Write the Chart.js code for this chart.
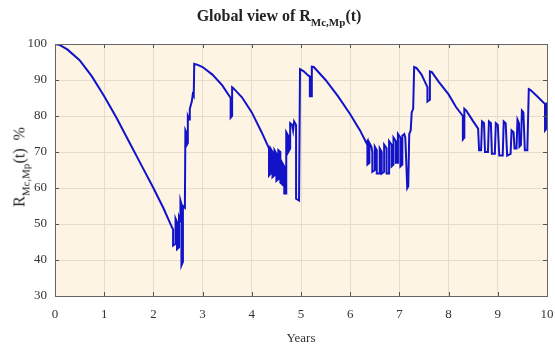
<!DOCTYPE html>
<html>
<head>
<meta charset="utf-8">
<script src="https://cdn.jsdelivr.net/npm/chart.js@4.4.0/dist/chart.umd.min.js"></script>
<style>
  html, body { margin: 0; padding: 0; background: #ffffff; }
  #wrap { position: relative; width: 555px; height: 347px; overflow: hidden; }
  #c { position: absolute; left: 0; top: 0; }
  #title { position: absolute; top: 7px; left: 279px; transform: translateX(-50%);
    font-family: "Liberation Serif", "DejaVu Serif", serif; font-weight: bold; font-size: 16px;
    color: #222; white-space: nowrap; }
  #title sub { font-size: 11px; vertical-align: -5px; }
  #ylab sub { font-size: 11px; vertical-align: -5px; }
  #ylab { position: absolute; left: 21px; top: 167px; transform: translate(-50%, -50%) rotate(-90deg);
    font-family: "Liberation Serif", "DejaVu Serif", serif; font-size: 16px; color: #222; white-space: nowrap; }
</style>
</head>
<body>
<div id="wrap">
  <canvas id="c" width="555" height="347"></canvas>
  <div id="title">Global view of R<sub>Mc,Mp</sub>(t)</div>
  <div id="ylab">R<sub>Mc,Mp</sub>(t)&nbsp; %</div>
</div>
<script>
// Years (x) and reliability R_Mc,Mp(t) in % (y)
const years = [
  0, 0.1, 0.25, 0.5, 0.75, 1.0, 1.25, 1.5, 1.75, 2.0, 2.2, 2.38,
  2.40, 2.40, 2.45, 2.45, 2.48, 2.48, 2.52, 2.52, 2.55, 2.55, 2.57, 2.57, 2.60, 2.60, 2.64,
  2.65, 2.68, 2.68, 2.70, 2.70, 2.73, 2.74, 2.78, 2.80, 2.82, 2.83,
  2.9, 3.0, 3.2, 3.4, 3.57, 3.57, 3.60, 3.60, 3.62, 3.8, 4.0, 4.2, 4.35,
  4.35, 4.38, 4.38, 4.42, 4.42, 4.46, 4.46, 4.50, 4.50, 4.54, 4.54, 4.58, 4.58, 4.62, 4.62,
  4.66, 4.66, 4.70, 4.70, 4.74, 4.74, 4.78, 4.78, 4.82, 4.84, 4.86, 4.90, 4.90, 4.96, 4.98,
  5.05, 5.15, 5.18, 5.18, 5.22, 5.22, 5.26, 5.5, 5.75, 6.0, 6.2, 6.33,
  6.35, 6.35, 6.39, 6.39, 6.43, 6.45, 6.45, 6.50, 6.50, 6.54, 6.54, 6.60, 6.60, 6.64, 6.64,
  6.69, 6.69, 6.74, 6.74, 6.79, 6.79, 6.84, 6.84, 6.88, 6.88, 6.93, 6.93, 6.97, 6.97, 7.02, 7.02,
  7.06, 7.06, 7.10, 7.12, 7.16, 7.18, 7.20, 7.23, 7.25, 7.28, 7.30,
  7.35, 7.45, 7.57, 7.57, 7.62, 7.62, 7.66, 7.8, 8.0, 8.15, 8.29, 8.29, 8.32, 8.32, 8.36, 8.5, 8.6,
  8.62, 8.66, 8.68, 8.72, 8.74, 8.80, 8.82, 8.86, 8.88, 8.94, 8.96, 9.00, 9.03, 9.10, 9.12, 9.16,
  9.19, 9.26, 9.28, 9.32, 9.34, 9.38, 9.40, 9.43, 9.44, 9.47, 9.49, 9.52, 9.55, 9.60, 9.63,
  9.66, 9.8, 9.96, 9.96, 9.99, 9.99, 10.0
];
const reliability = [
  100, 99.7, 98.5, 95.5, 91, 85.5, 79.5, 73, 66.5, 60, 54.5, 49,
  48.5, 44, 44.5, 51.5, 50.5, 43, 43.5, 52, 51, 56.5, 55.5, 38.5, 39.5, 55, 54.5,
  76, 75, 72, 72.5, 80, 79, 82, 84, 86, 85.5, 94.5,
  94.2, 93.6, 91.5, 88.5, 85, 79.5, 80, 88, 87.8, 85.2, 81, 75.5, 71,
  63.5, 64, 71, 70, 63, 63.5, 70.5, 69.5, 62, 62.5, 70.5, 70, 61.5, 61, 67,
  66, 58.5, 58.5, 75.5, 74.5, 70, 71, 78, 77.5, 76, 78.5, 77.5, 57, 56.5, 93,
  92.5, 91.2, 91, 85.5, 85.5, 93.7, 93.6, 90, 85.5, 80.5, 76, 72.5,
  73, 66.5, 67, 72.5, 71.5, 70, 64.5, 65, 71.5, 70.5, 64, 64, 71, 70, 64,
  64.5, 72, 71, 64, 64, 73, 72, 66, 66.5, 74, 73, 67, 67, 75, 74, 66,
  66.5, 74.5, 75, 74, 60, 60.5, 75, 76, 81, 82, 93.6,
  93.3, 91.5, 88, 84, 84.5, 92.4, 92.2, 89.5, 86, 82.5, 80, 73.5, 74, 82, 81.5, 78.5, 76.5,
  70.5, 70.5, 78.5, 78, 70, 70, 78.5, 78, 69.5, 69.5, 78, 77.5, 69, 69, 78.5, 78,
  69, 69.5, 76, 75.5, 71, 71, 79, 78, 71.5, 72, 81.5, 81, 70.5, 70.5, 87.5,
  87.3, 85.5, 83.3, 76, 76.5, 83.5, 83.5
];
const xTicks = [0, 1, 2, 3, 4, 5, 6, 7, 8, 9, 10];
const yTicks = [30, 40, 50, 60, 70, 80, 90, 100];

const points = years.map((x, i) => ({ x: x, y: reliability[i] }));
const serif = '"Liberation Serif", "DejaVu Serif", serif';

const frame = {
  id: 'frame',
  beforeDraw(chart) {
    const a = chart.chartArea, ctx = chart.ctx;
    ctx.save();
    ctx.fillStyle = '#fdf4e4';
    ctx.fillRect(a.left, a.top, a.right - a.left, a.bottom - a.top);
    ctx.restore();
  },
  afterDraw(chart) {
    const a = chart.chartArea, ctx = chart.ctx;
    const xs = chart.scales.x, ys = chart.scales.y;
    ctx.save();
    ctx.strokeStyle = '#555555';
    ctx.lineWidth = 1;
    ctx.beginPath();
    xTicks.forEach(v => {
      const px = Math.round(xs.getPixelForValue(v)) + 0.5;
      ctx.moveTo(px, a.bottom); ctx.lineTo(px, a.bottom - 4);
      ctx.moveTo(px, a.top); ctx.lineTo(px, a.top + 4);
    });
    yTicks.forEach(v => {
      const py = Math.round(ys.getPixelForValue(v)) + 0.5;
      ctx.moveTo(a.left, py); ctx.lineTo(a.left + 4, py);
      ctx.moveTo(a.right, py); ctx.lineTo(a.right - 4, py);
    });
    ctx.stroke();
    ctx.strokeStyle = '#666666';
    ctx.strokeRect(Math.round(a.left) + 0.5, Math.round(a.top) + 0.5,
      Math.round(a.right - a.left), Math.round(a.bottom - a.top));
    ctx.restore();
  }
};

new Chart(document.getElementById('c'), {
  type: 'line',
  data: {
    datasets: [{
      data: points,
      borderColor: '#1212c8',
      borderWidth: 2,
      pointRadius: 0,
      tension: 0,
      fill: false
    }]
  },
  options: {
    responsive: false,
    animation: false,
    devicePixelRatio: 1,
    layout: { padding: { left: 0, right: 8, top: 44, bottom: 0 } },
    plugins: { legend: { display: false }, tooltip: { enabled: false }, title: { display: false } },
    scales: {
      x: {
        type: 'linear', min: 0, max: 10,
        afterBuildTicks: s => { s.ticks = xTicks.map(v => ({ value: v })); },
        afterFit: s => { s.height = 51; s.paddingLeft = 0; s.paddingRight = 0; },
        ticks: { font: { family: serif, size: 13 }, color: '#333', padding: 11, maxRotation: 0 },
        grid: { color: '#e6dccb', drawTicks: false },
        border: { display: false },
        title: { display: true, text: 'Years', font: { family: serif, size: 13 }, color: '#333', padding: { top: 0, bottom: 1 } }
      },
      y: {
        type: 'linear', min: 30, max: 100,
        afterBuildTicks: s => { s.ticks = yTicks.map(v => ({ value: v })); },
        afterFit: s => { s.width = 55; },
        ticks: { font: { family: serif, size: 13 }, color: '#333', padding: 8 },
        grid: { color: '#e6dccb', drawTicks: false },
        border: { display: false }
      }
    }
  },
  plugins: [frame]
});
</script>
</body>
</html>
